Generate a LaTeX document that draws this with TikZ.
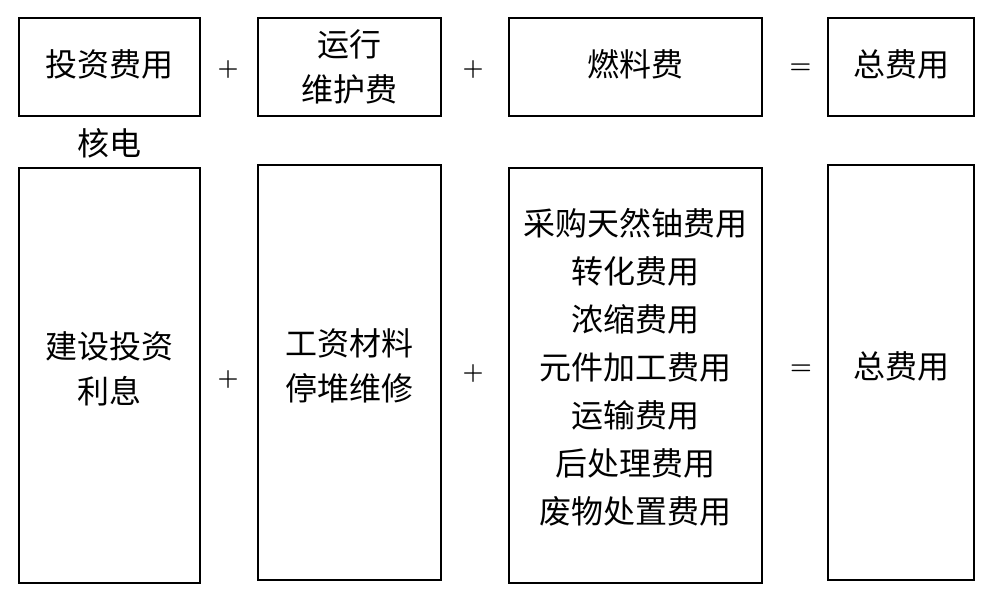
\documentclass[tikz,border=0pt]{standalone}
\usepackage{fontspec}
\newfontfamily\cjk{Noto Sans CJK SC}
\begin{document}
\begin{tikzpicture}[x=1pt,y=-1pt,
  box/.style={draw=black,line width=2.6pt,inner sep=0pt,align=center,
    font=\cjk\fontsize{32}{45}\selectfont},
  tallbox/.style={box,minimum height=415pt},
  shortbox/.style={box,minimum height=98pt},
  op/.style={inner sep=0pt,font=\bfseries\fontsize{24}{24}\selectfont},
  eqop/.style={inner sep=0pt,font=\boldmath\fontsize{35}{35}\selectfont},
  lbl/.style={inner sep=0pt,font=\cjk\fontsize{32}{32}\selectfont}]
\useasboundingbox (0,0) rectangle (994,593);
% top row
\node[shortbox,minimum width=181pt,text depth=8pt] (t1) at (109.5,67) {投资费用};
\node[shortbox,minimum width=183pt] (t2) at (349.5,67) {运行\\维护费};
\node[shortbox,minimum width=253pt,text depth=8pt] (t3) at (635.5,67) {燃料费};
\node[shortbox,minimum width=146pt,text depth=8pt] (t4) at (901,67) {总费用};
\node[op] (tp1) at (228,70) {+};
\node[op] (tp2) at (473,70) {+};
\node[eqop] (teq) at (800.5,68.5) {$=$};
\node[lbl] (hd) at (109,143) {核电};
% bottom row
\node[tallbox,minimum width=181pt,text depth=15pt] (b1) at (109.5,375.5) {建设投资\\利息};
\node[tallbox,minimum width=183pt,text depth=15pt] (b2) at (349.5,372.5) {工资材料\\停堆维修};
\node[tallbox,minimum width=253pt,text depth=20pt,font=\cjk\fontsize{32}{48}\selectfont] (b3) at (635.5,375.5)
  {采购天然铀费用\\转化费用\\浓缩费用\\元件加工费用\\运输费用\\后处理费用\\废物处置费用};
\node[tallbox,minimum width=146pt,text depth=14pt] (b4) at (901,372.5) {总费用};
\node[op] (bp1) at (228,380) {+};
\node[op] (bp2) at (473,374) {+};
\node[eqop] (beq) at (801,370) {$=$};
\end{tikzpicture}
\end{document}
